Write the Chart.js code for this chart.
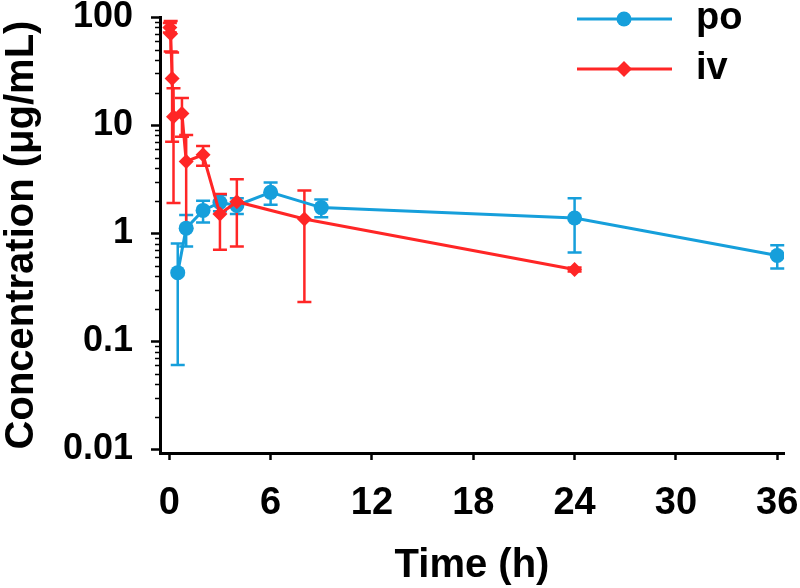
<!DOCTYPE html>
<html>
<head>
<meta charset="utf-8">
<script src="https://cdn.jsdelivr.net/npm/chart.js@4.4.1/dist/chart.umd.min.js"></script>
<style>
  html, body { margin: 0; padding: 0; background: #fff; }
  #wrap { width: 800px; height: 588px; }
</style>
</head>
<body>
<div id="wrap"><canvas id="c" width="800" height="588"></canvas></div>
<script>
// ---- data ----
const poTime = [0.5, 1, 2, 3, 4, 6, 9, 24, 36];
const poMean = [0.43, 1.11, 1.62, 1.92, 1.8, 2.38, 1.72, 1.38, 0.62];
const poSD   = [0.37, 0.36, 0.37, 0.33, 0.3, 0.55, 0.32, 0.72, 0.15];

const ivTime = [0.033, 0.083, 0.167, 0.25, 0.75, 1, 2, 3, 4, 8, 24];
const ivMean = [80, 70, 27, 11.9, 12.8, 4.6, 5.3, 1.5, 1.95, 1.35, 0.46];
const ivSD   = [8, 22, 20, 10, 5, 3.5, 1.1, 0.8, 1.2, 1.12, 0.02];

const xTicks = [0, 6, 12, 18, 24, 30, 36];
const yTicks = [0.01, 0.1, 1, 10, 100];
const yTickLabels = ['0.01', '0.1', '1', '10', '100'];

const BLUE = '#169fdb';
const RED = '#ff2626';
const FONT = '"Liberation Sans", Arial, sans-serif';

const toPts = (t, m) => t.map((v, i) => ({ x: v, y: m[i] }));

const errorBars = {
  id: 'errorBars',
  beforeDatasetsDraw(chart) {
    const { ctx, scales: { x, y } } = chart;
    const order = [1, 0];
    order.forEach(i => {
      const ds = chart.data.datasets[i];
      const sd = ds.sd;
      ctx.save();
      ctx.strokeStyle = ds.borderColor;
      ctx.lineWidth = 2.5;
      ds.data.forEach((p, j) => {
        const e = sd[j];
        const px = x.getPixelForValue(p.x);
        const hi = p.y + e;
        const lo = p.y - e;
        const yHi = y.getPixelForValue(hi);
        const yLo = lo > y.min ? y.getPixelForValue(lo) : y.bottom;
        ctx.beginPath();
        ctx.moveTo(px, yHi); ctx.lineTo(px, yLo);
        ctx.moveTo(px - 7, yHi); ctx.lineTo(px + 7, yHi);
        if (lo > y.min) { ctx.moveTo(px - 7, yLo); ctx.lineTo(px + 7, yLo); }
        ctx.stroke();
      });
      ctx.restore();
    });
  }
};

const minorTicks = {
  id: 'minorTicks',
  afterDraw(chart) {
    const { ctx, scales: { y } } = chart;
    ctx.save();
    ctx.strokeStyle = '#000';
    ctx.lineWidth = 1.5;
    ctx.beginPath();
    for (let d = -2; d < 2; d++) {
      for (let k = 2; k <= 9; k++) {
        const v = k * Math.pow(10, d);
        const py = Math.round(y.getPixelForValue(v)) + 0.5;
        ctx.moveTo(y.right - 1, py); ctx.lineTo(y.right - 5, py);
      }
    }
    ctx.stroke();
    ctx.restore();
  }
};

const customLegend = {
  id: 'customLegend',
  afterDraw(chart) {
    const { ctx } = chart;
    const items = [
      { ds: chart.data.datasets[1], y: 19, shape: 'circle' },
      { ds: chart.data.datasets[0], y: 69, shape: 'diamond' }
    ];
    ctx.save();
    items.forEach(it => {
      ctx.strokeStyle = it.ds.borderColor;
      ctx.fillStyle = it.ds.borderColor;
      ctx.lineWidth = 3;
      ctx.beginPath();
      ctx.moveTo(577, it.y); ctx.lineTo(672, it.y);
      ctx.stroke();
      ctx.beginPath();
      if (it.shape === 'circle') {
        ctx.arc(624, it.y, 7.5, 0, Math.PI * 2);
      } else {
        ctx.moveTo(624, it.y - 8); ctx.lineTo(632, it.y); ctx.lineTo(624, it.y + 8); ctx.lineTo(616, it.y);
        ctx.closePath();
      }
      ctx.fill();
      ctx.fillStyle = '#000';
      ctx.font = 'bold 38px ' + FONT;
      ctx.textBaseline = 'middle';
      ctx.textAlign = 'left';
      ctx.fillText(it.ds.label, 696, it.y);
    });
    ctx.restore();
  }
};

new Chart(document.getElementById('c'), {
  type: 'line',
  data: {
    datasets: [
      {
        label: 'iv',
        data: toPts(ivTime, ivMean),
        sd: ivSD,
        borderColor: RED,
        backgroundColor: RED,
        borderWidth: 3,
        pointStyle: 'rectRot',
        pointRadius: 7.5,
        pointBorderWidth: 0,
        tension: 0
      },
      {
        label: 'po',
        data: toPts(poTime, poMean),
        sd: poSD,
        borderColor: BLUE,
        backgroundColor: BLUE,
        borderWidth: 3,
        pointStyle: 'circle',
        pointRadius: 7.5,
        pointBorderWidth: 0,
        tension: 0
      }
    ]
  },
  options: {
    responsive: false,
    animation: false,
    layout: { padding: { left: 0, right: 16, top: 17, bottom: 0 } },
    plugins: { legend: { display: false }, tooltip: { enabled: false } },
    scales: {
      x: {
        type: 'linear',
        min: -0.55,
        max: 36.4,
        afterBuildTicks: s => { s.ticks = xTicks.map(v => ({ value: v })); },
        afterFit: s => { s.height = 135; s.paddingLeft = 0; s.paddingRight = 0; },
        border: { display: true, color: '#000', width: 3 },
        grid: { display: true, drawOnChartArea: false, drawTicks: true, tickLength: 7, tickColor: '#000', tickWidth: 2.5 },
        ticks: { color: '#000', font: { family: FONT, size: 38, weight: 'bold' }, padding: 21, maxRotation: 0, autoSkip: false },
        title: { display: true, text: 'Time (h)', color: '#000', font: { family: FONT, size: 40, weight: 'bold', lineHeight: 1.1 }, padding: { top: 0, bottom: 0 } }
      },
      y: {
        type: 'logarithmic',
        min: 0.0092,
        max: 100,
        afterBuildTicks: s => { s.ticks = yTicks.map(v => ({ value: v })); },
        afterFit: s => { s.width = 160; s.paddingTop = 0; s.paddingBottom = 0; },
        border: { display: true, color: '#000', width: 3 },
        grid: { display: true, drawOnChartArea: false, drawTicks: true, tickLength: 9, tickColor: '#000', tickWidth: 2.5 },
        ticks: {
          color: '#000', font: { family: FONT, size: 36, weight: 'bold' }, padding: 18, autoSkip: false,
          callback: (v) => { const i = yTicks.findIndex(t => Math.abs(t - v) / t < 1e-6); return i >= 0 ? yTickLabels[i] : ''; }
        },
        title: { display: true, text: 'Concentration (μg/mL)', color: '#000', font: { family: FONT, size: 40, weight: 'bold', lineHeight: 1.1 }, padding: { top: 0, bottom: 0 } }
      }
    }
  },
  plugins: [errorBars, minorTicks, customLegend]
});
</script>
</body>
</html>
